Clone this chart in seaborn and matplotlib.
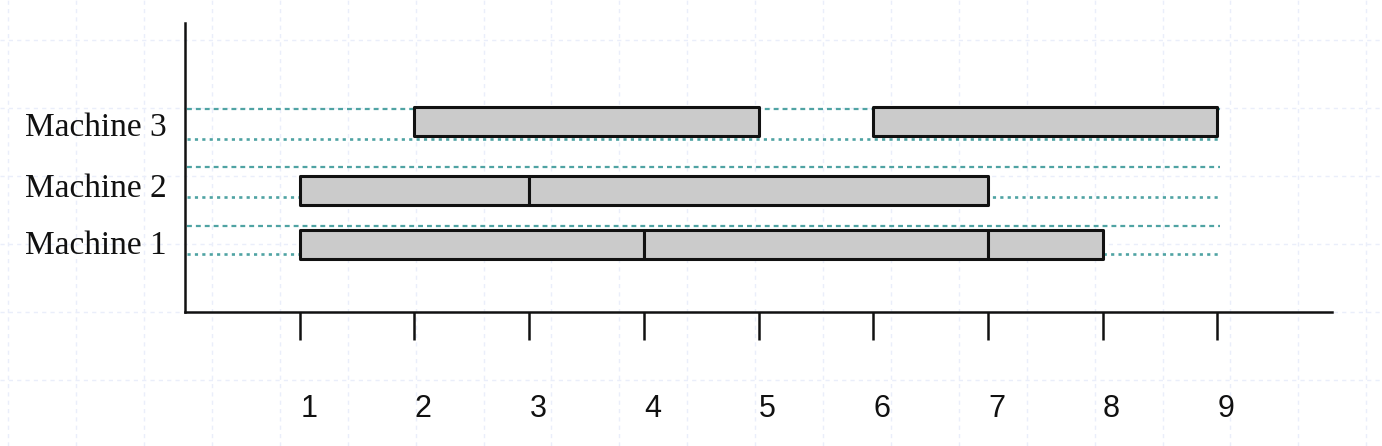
import matplotlib
matplotlib.use("Agg")
import matplotlib.pyplot as plt
import matplotlib.transforms as mtransforms
import seaborn as sns
import numpy as np

# ---- data ----
machines = ["Machine 1", "Machine 2", "Machine 3"]
task_machine = ["Machine 1", "Machine 1", "Machine 1",
                "Machine 2", "Machine 2",
                "Machine 3", "Machine 3"]
task_start = [1, 4, 7, 1, 3, 2, 6]
task_end = [4, 7, 8, 3, 7, 5, 9]
x_ticks = [1, 2, 3, 4, 5, 6, 7, 8, 9]

# ---- layout (axis units: 0 at bottom axis, 289 at top) ----
row_center = {"Machine 1": 67.5, "Machine 2": 121.5, "Machine 3": 190.5}
label_y = {"Machine 1": 70, "Machine 2": 127, "Machine 3": 188}
guide_top = {"Machine 1": 86, "Machine 2": 145, "Machine 3": 203}
guide_bot = {"Machine 1": 58, "Machine 2": 115, "Machine 3": 173}
bar_h = 29

sns.set_style("white")
plt.rcParams["font.family"] = ["Liberation Sans", "DejaVu Sans"]

W, H = 1382, 446
fig = plt.figure(figsize=(W / 100, H / 100), dpi=100)

# background page grid
bg = fig.add_axes([0, 0, 1, 1])
bg.set_xlim(0, W)
bg.set_ylim(H, 0)
for gx in np.arange(8.3, W, 67.9):
    bg.axvline(gx, color="#eaeefa", lw=1, ls=(0, (3, 3)))
for gy in np.arange(40, H + 5, 67.9):
    bg.axhline(gy, color="#eaeefa", lw=1, ls=(0, (3, 3)))
bg.axis("off")

ax = fig.add_axes([185 / W, (H - 312) / H, (1332 - 185) / W, (312 - 23) / H])
ax.patch.set_alpha(0)
ax.set_xlim(0, 10)
ax.set_ylim(0, 289)

teal = "#4fa3a3"
for m in machines:
    ax.plot([0.02, 9.02], [guide_top[m]] * 2, color=teal, lw=1.6, ls=(0, (2.2, 1.8)), zorder=1)
    ax.plot([0.02, 9.02], [guide_bot[m]] * 2, color=teal, lw=1.9, ls=(0, (1.2, 1.6)), zorder=1)

for m, s, e in zip(task_machine, task_start, task_end):
    bars = ax.barh(row_center[m], e - s, left=s, height=bar_h,
                   color="#cbcbcb", edgecolor="#111111", linewidth=2.2, zorder=3)
    for b in bars:
        b.set_joinstyle("round")

for sp in ["top", "right"]:
    ax.spines[sp].set_visible(False)
for sp in ["left", "bottom"]:
    ax.spines[sp].set_linewidth(1.8)
    ax.spines[sp].set_color("#111111")

ax.set_xticks(x_ticks)
ax.set_xticklabels([str(t) for t in x_ticks], fontsize=22)
ax.tick_params(axis="x", bottom=True, direction="out", length=20, width=1.8,
               color="#111111", pad=39, labelcolor="#111111")
offset = mtransforms.ScaledTranslation(9 / 100, 0, fig.dpi_scale_trans)
for lab in ax.get_xticklabels():
    lab.set_transform(lab.get_transform() + offset)

ax.set_yticks([label_y[m] for m in machines])
ax.set_yticklabels(machines, fontsize=24, family=["Liberation Serif", "DejaVu Serif"])
ax.tick_params(axis="y", left=False, length=0, pad=13, labelcolor="#111111")

fig.savefig("out.png", dpi=100)
